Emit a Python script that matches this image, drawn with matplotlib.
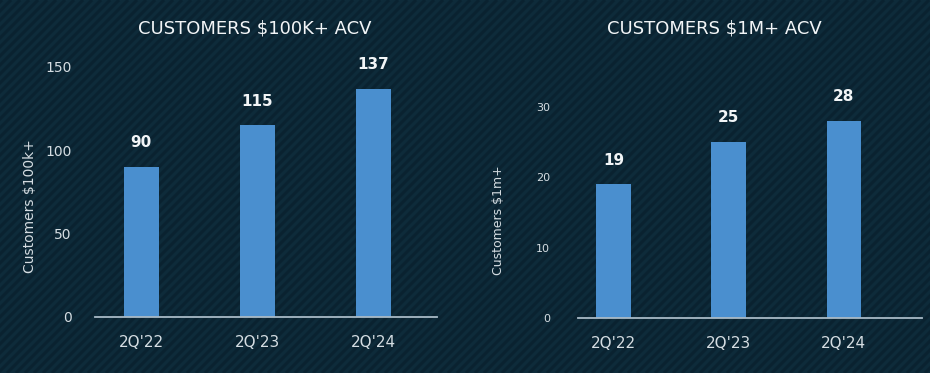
import matplotlib.pyplot as plt
import numpy as np
from matplotlib.collections import LineCollection

quarters = ["2Q'22", "2Q'23", "2Q'24"]
customers_100k = [90, 115, 137]
customers_1m = [19, 25, 28]

BG = '#0e2b3a'
STRIPE = '#0a2230'
BAR = '#4a8fcf'
TEXT = '#f2f5f7'
TICK = '#d5dde2'
BASE = '#a9bac6'

plt.rcParams['font.family'] = ['DejaVu Sans']

W, H = 930, 373
fig = plt.figure(figsize=(W / 100, H / 100), dpi=100)
fig.patch.set_facecolor(BG)

# diagonal stripe texture behind everything
bg = fig.add_axes([0, 0, 1, 1], zorder=-10)
bg.set_xlim(0, W)
bg.set_ylim(0, H)
bg.axis('off')
segs = [[(c, 0), (c + H, H)] for c in np.arange(-380, 940, 9)]
bg.add_collection(LineCollection(segs, colors=STRIPE, linewidths=2.2))


def draw_panel(px, values, ylim, yticks, title, ylabel, xlim,
               tick_size, tick_pad, ylabel_size, ylabel_xy, title_x):
    # px = (left, bottom, right, top) in pixels from the top-left corner
    l, b, r, t = px
    ax = fig.add_axes([l / W, 1 - b / H, (r - l) / W, (b - t) / H])
    ax.set_facecolor('none')
    x = np.arange(len(quarters))
    ax.bar(x, values, width=0.30, color=BAR, zorder=2)
    ax.set_xlim(*xlim)
    ax.set_ylim(*ylim)
    ax.set_yticks(yticks)
    ax.set_xticks(x)
    ax.set_xticklabels(quarters, fontsize=11, color=TICK)
    ax.tick_params(axis='y', colors=TICK, labelsize=tick_size, length=0, pad=tick_pad)
    ax.tick_params(axis='x', colors=TICK, length=0, pad=13)
    for s in ['top', 'right', 'left']:
        ax.spines[s].set_visible(False)
    ax.spines['bottom'].set_color(BASE)
    ax.spines['bottom'].set_linewidth(1.3)
    ax.spines['bottom'].set_zorder(3)
    fig.text(ylabel_xy[0] / W, 1 - ylabel_xy[1] / H, ylabel, rotation=90,
             ha='center', va='center', color=TICK, fontsize=ylabel_size)
    for xi, v in zip(x, values):
        ax.annotate(str(v), (xi, v), xytext=(0, 17.5), textcoords='offset points',
                    ha='center', va='center', color=TEXT, fontsize=11,
                    fontweight='bold', annotation_clip=False)
    fig.text(title_x / W, 1 - 29 / H, title, ha='center', va='center',
             color=TEXT, fontsize=13)
    return ax


draw_panel((95, 317, 437, 67), customers_100k, (0, 150), [0, 50, 100, 150],
           'CUSTOMERS $100K+ ACV', 'Customers $100k+', (-0.40, 2.55),
           10, 17, 10, (30, 206), 255)

draw_panel((578, 318, 922, 107), customers_1m, (0, 30), [0, 10, 20, 30],
           'CUSTOMERS $1M+ ACV', 'Customers $1m+', (-0.31, 2.68),
           8, 20, 9, (498, 220), 714)

fig.savefig('out.png', dpi=100, facecolor=BG)
